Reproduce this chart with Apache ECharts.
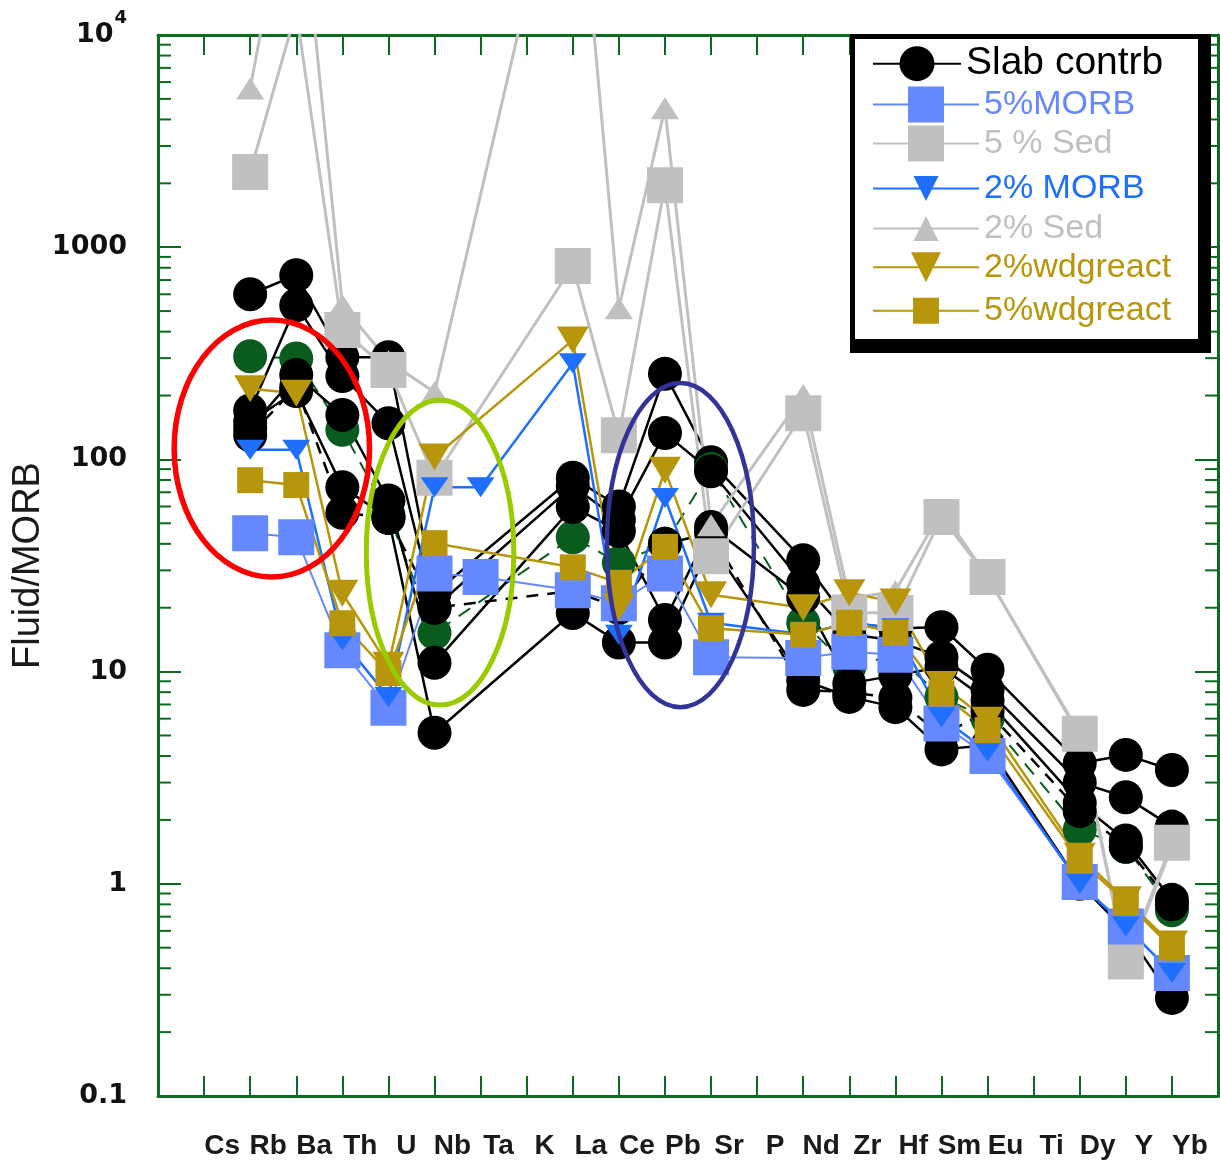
<!DOCTYPE html>
<html><head><meta charset="utf-8">
<script src="https://cdn.jsdelivr.net/npm/echarts@6/dist/echarts.min.js"></script>
<style>html,body{margin:0;padding:0;background:#fff}#c{width:1220px;height:1164px}</style>
</head><body><div id="c"></div>
<script>
// ---------- data ----------
const categories = ['Cs','Rb','Ba','Th','U','Nb','Ta','K','La','Ce','Pb','Sr','P','Nd','Zr','Hf','Sm','Eu','Ti','Dy','Y','Yb'];
const yTickLabels = [0.1, 1, 10, 100, 1000, 10000];
const minorTickValues = [0.2,0.3,0.4,0.5,0.6,0.7,0.8,0.9, 2,3,4,5,6,7,8,9, 20,30,40,50,60,70,80,90,
  200,300,400,500,600,700,800,900, 2000,3000,4000,5000,6000,7000,8000,9000];
//                 Cs   Rb    Ba     Th   U    Nb    Ta   K     La     Ce    Pb    Sr   P     Nd    Zr   Hf    Sm    Eu    Ti    Dy   Y     Yb
const slab1  = [null, 600,  738,   303, 303, 23.4, null,null, 82,    60,   253,  97,  null, 33.5, 17,  16,   16.2, 10.2, null, 3.7, 4.05, 3.44];
const slab2  = [null, 170,  533,   247, 148, 20,   null,null, 75,    52,   133,  88,  null, 26,   15,  14,   11.7, 8.2,  null, 3.0, 2.56, 1.86];
const slab3  = [null, 140,  250,   162, 64,  11,   null,null, 59.6,  46,   17.5, 48,  null, 22.4, 8.8, 9.6,  10.5, 7.3,  null, 2.4, 1.6,  0.84];
const slab4  = [null, 150,  210,   74,  53,  5.15, null,null, 18.9,  13.7, 13.7, 40,  null, 9.1,  7.6, 6.8,  4.3,  4.5,  null, 1.0, 0.6,  0.29];
const slab5  = [null, 130,  220,   56,  53,  20,   null,null, 24,    20,   40,   45,  null, 8.2,  8.0, 7.5,  5.0,  6.5,  null, 2.2, 1.5,  0.8];
const slabG  = [null, 306,  299,   138, 55,  15.2, null,null, 43,    32.5, 40,   90,  null, 17,   10.5,12,   7.6,  6.0,  null, 1.8, 1.49, 0.75];
const sed2   = [null, 5600, 80000, 534, 290, 207,  null,null, 130000,516,  4520, 49,  null, 201,  22,  24,   57,   28,   null, 5.0, 0.42, 1.5];
const sed5   = [null, 2260, 13000, 407, 264, 82,   null,null, 815,   130,  1960, 35,  null, 165,  19,  18.9, 53.5, 27.9, null, 5.1, 0.43, 1.56];
const morb5  = [null, 44.9, 43,    12.6,6.75,29,   27.9,null, 24.2,  21,   29,   11.7,null, 11.6, 12.4,12.0, 5.7,  4.0,  null, 1.02,0.63, 0.38];
const morb2  = [null, 111,  111,   14,  7.6, 74,   74,  null, 284,   14.9, 65.8, 17,  null, 15,   17,  16,   6.1,  4.2,  null, 1.0, 0.63, 0.38];
const wdg2   = [null, 215,  205,   23.4,10.7,102.6,null,null, 365,   20.1, 89,   23,  null, 20,   23.5,21.3, 8.7,  5.9,  null, 1.35,0.84, 0.52];
const wdg5   = [null, 79.8, 75.7,  16.9,9.85,40.3, null,null, 31,    26.2, 38.7, 16,  null, 14.9, 17,  15.3, 7.9,  5.3,  null, 1.29,0.82, 0.50];

// ---------- styles ----------
const AX = '#0b6b1f';
const C_BLACK = '#000000', C_GREEN = '#0a5c1e', C_GREY = '#c0c0c0',
      C_MORB5 = '#6688ff', C_MORB2 = '#1f6fff', C_GOLD = '#b8960c';

function pts(arr){ return arr.map((v,i)=>[i,v]).filter(p=>p[1]!=null); }
function ls(name, arr, color, symbol, size, width, extra){
  return Object.assign({
    type:'line', name, data: pts(arr), connectNulls:true, clip:true,
    symbol, symbolSize:size, showSymbol:true,
    lineStyle:{color, width, type:'solid'},
    itemStyle:{color, borderWidth:0},
    emphasis:{disabled:true}, z:2
  }, extra||{});
}

const series = [
  ls('Slab contrb', slab1, C_BLACK, 'circle', 34, 2.5),
  ls('Slab contrb green', slabG, C_GREEN, 'circle', 34, 2, {lineStyle:{color:C_GREEN,width:2,type:[14,10]}}),
  ls('Slab contrb', slab2, C_BLACK, 'circle', 34, 2.5),
  ls('Slab contrb', slab3, C_BLACK, 'circle', 34, 2.5),
  ls('Slab contrb', slab4, C_BLACK, 'circle', 34, 2.5),
  ls('Slab contrb', slab5, C_BLACK, 'circle', 34, 2.5, {lineStyle:{color:C_BLACK,width:2.5,type:[12,9]}}),
  ls('2% Sed', sed2, C_GREY, 'triangle', [28,22], 3),
  ls('5 % Sed', sed5, C_GREY, 'rect', 36, 3),
  ls('5%MORB', morb5, C_MORB5, 'rect', 36, 2),
  ls('2% MORB', morb2, C_MORB2, 'triangle', [28,20], 2.5, {symbolRotate:180}),
  ls('2%wdgreact', wdg2, C_GOLD, 'triangle', [32,27], 2.5, {symbolRotate:180}),
  ls('5%wdgreact', wdg5, C_GOLD, 'rect', 26, 2.5),
  {
    type:'custom', name:'minorTicks', silent:true, z:5,
    data: minorTickValues.map(v=>[0,v]),
    renderItem(params, api){
      const cs = params.coordSys;
      const y = api.coord([0, api.value(1)])[1];
      const st = {stroke:AX, lineWidth:2};
      return {type:'group', children:[
        {type:'line', shape:{x1:cs.x, y1:y, x2:cs.x+13, y2:y}, style:st},
        {type:'line', shape:{x1:cs.x+cs.width, y1:y, x2:cs.x+cs.width-13, y2:y}, style:st}
      ]};
    }
  }
];

// legend entries
const legendRows = [
  {name:'Slab contrb', color:'#000', size:35, font:39, center:66, itemWidth:88},
  {name:'5%MORB', color:C_MORB5, size:36, font:34, center:109, itemWidth:106},
  {name:'5 % Sed', color:C_GREY, size:36, font:34, center:148, itemWidth:106},
  {name:'2% MORB', color:C_MORB2, size:25, font:34, center:187, itemWidth:106},
  {name:'2% Sed', color:C_GREY, size:25, font:34, center:227, itemWidth:106},
  {name:'2%wdgreact', color:C_GOLD, size:30, font:34, center:269, itemWidth:106},
  {name:'5%wdgreact', color:C_GOLD, size:26, font:34, center:310, itemWidth:106}
];
const legends = legendRows.map(r=>{
  const h = r.size/0.8;
  return {
    show:true, orient:'vertical', left:872, top:r.center - h/2, padding:0,
    itemWidth:r.itemWidth, itemHeight:h, selectedMode:false, z:20,
    data:[{name:r.name}],
    textStyle:{color:r.color, fontSize:r.font, fontFamily:'Liberation Sans, Arial, sans-serif'}
  };
});

const ellipses = [
  {color:'#ff0000', width:5.5, x0:-0.65, x1:3.59, yTop:454, yBot:27.9},
  {color:'#99cc00', width:5,   x0:3.52,  x1:6.72, yTop:190.6, yBot:6.96},
  {color:'#333399', width:4.5, x0:8.74,  x1:11.93, yTop:229, yBot:6.8}
];

const chart = echarts.init(document.getElementById('c'), null, {renderer:'canvas'});
const option = {
  animation:false,
  backgroundColor:'#ffffff',
  grid:{left:158, right:2, top:35, bottom:68, containLabel:false, outerBoundsMode:'none'},
  xAxis:[
    {type:'value', position:'bottom', min:-1, max:22, interval:1,
     axisLine:{show:true, onZero:false, lineStyle:{color:AX, width:3}},
     axisTick:{show:true, inside:true, length:20, lineStyle:{color:AX, width:2}},
     splitLine:{show:false},
     axisLabel:{show:true, margin:36, fontSize:28, fontWeight:'bold', color:'#1a1a1a',
       fontFamily:'Liberation Sans, Arial, sans-serif', padding:[0,0,0,36],
       showMinLabel:true, showMaxLabel:true, hideOverlap:false,
       formatter:v=> (Number.isInteger(v) && categories[v]) ? categories[v] : ''}},
    {type:'value', position:'top', min:-1, max:22, interval:1,
     axisLine:{show:true, onZero:false, lineStyle:{color:AX, width:3}},
     axisTick:{show:true, inside:true, length:20, lineStyle:{color:AX, width:2}},
     splitLine:{show:false}, axisLabel:{show:false}}
  ],
  yAxis:[
    {type:'log', logBase:10, min:0.1, max:10000, position:'left',
     name:'Fluid/MORB', nameLocation:'middle', nameRotate:90, nameGap:110, nameMoveOverlap:false,
     nameTextStyle:{fontSize:38, color:'#1a1a1a', fontFamily:'Liberation Sans, Arial, sans-serif'},
     axisLine:{show:true, onZero:false, lineStyle:{color:AX, width:3}},
     axisTick:{show:true, inside:true, length:23, lineStyle:{color:AX, width:2}},
     splitLine:{show:false},
     axisLabel:{show:true, margin:31, color:'#111',
       fontSize:27, fontWeight:'bold', fontFamily:'DejaVu Sans, sans-serif',
       formatter:v=>{ const n = Number(v.toPrecision(6));
         if (yTickLabels.indexOf(n) < 0) return '';
         return n===10000 ? '{n|10}{s|4}' : String(n); },
       rich:{ n:{fontSize:27, fontWeight:'bold', fontFamily:'DejaVu Sans, sans-serif', color:'#111'},
              s:{fontSize:18, fontWeight:'bold', fontFamily:'DejaVu Sans, sans-serif', color:'#111', padding:[0,0,34,1]} }}},
    {type:'log', logBase:10, min:0.1, max:10000, position:'right',
     axisLine:{show:true, onZero:false, lineStyle:{color:AX, width:3}},
     axisTick:{show:true, inside:true, length:23, lineStyle:{color:AX, width:2}},
     splitLine:{show:false}, axisLabel:{show:false}}
  ],
  legend: legends,
  series: series
};
chart.setOption(option);

function buildGraphics(){
  const g = [];
  ellipses.forEach(e=>{
    const p0 = chart.convertToPixel({xAxisIndex:0, yAxisIndex:0}, [e.x0, e.yTop]);
    const p1 = chart.convertToPixel({xAxisIndex:0, yAxisIndex:0}, [e.x1, e.yBot]);
    g.push({type:'ellipse', silent:true, z:8,
      shape:{cx:(p0[0]+p1[0])/2, cy:(p0[1]+p1[1])/2, rx:Math.abs(p1[0]-p0[0])/2, ry:Math.abs(p1[1]-p0[1])/2},
      style:{fill:'none', stroke:e.color, lineWidth:e.width}});
  });
  // legend frame with shadow
  g.push({type:'rect', silent:true, z:10, shape:{x:850, y:34, width:361, height:319}, style:{fill:'#000'}});
  g.push({type:'rect', silent:true, z:10, shape:{x:855, y:39, width:343, height:300}, style:{fill:'#fff'}});
  chart.setOption({graphic:{elements:g}});
}
buildGraphics();
</script></body></html>
